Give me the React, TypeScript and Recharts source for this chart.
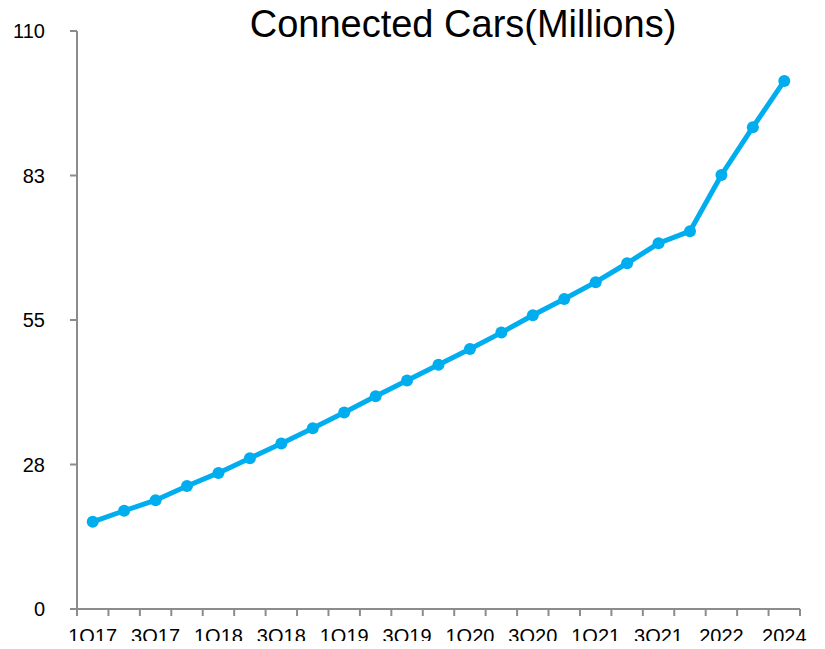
import { LineChart, Line, XAxis, YAxis } from "recharts";

const categories = [
  "1Q17", "2Q17", "3Q17", "4Q17",
  "1Q18", "2Q18", "3Q18", "4Q18",
  "1Q19", "2Q19", "3Q19", "4Q19",
  "1Q20", "2Q20", "3Q20", "4Q20",
  "1Q21", "2Q21", "3Q21", "4Q21",
  "2022", "2023", "2024",
];

const connectedCars = [
  16.6, 18.7, 20.7, 23.4,
  25.9, 28.7, 31.5, 34.4,
  37.4, 40.5, 43.5, 46.5,
  49.5, 52.6, 55.9, 59.0,
  62.2, 65.8, 69.6, 71.9,
  82.6, 91.7, 100.5,
];

const yTicks = [0, 27.5, 55, 82.5, 110];

// each category sits in the middle of its slot, tick marks sit on the slot edges
const data = categories.map((name, i) => ({ name, x: i + 0.5, value: connectedCars[i] }));
const boundaryTicks = categories.map((_, i) => i).concat(categories.length);
const labelTicks = categories.map((_, i) => i + 0.5).filter((_, i) => i % 2 === 0);

const axisColor = "#8c8c8c";
const lineColor = "#00aeef";

export default function App() {
  return (
    <div
      style={{
        position: "relative",
        width: 825,
        height: 649,
        margin: -8,
        fontFamily: "'Liberation Sans', Arial, Helvetica, sans-serif",
      }}
    >
      <LineChart
        width={825}
        height={649}
        data={data}
        margin={{ top: 31, right: 25, left: 0, bottom: 8 }}
      >
        <XAxis
          xAxisId={0}
          dataKey="x"
          type="number"
          domain={[0, categories.length]}
          ticks={boundaryTicks}
          interval={0}
          height={8}
          tickSize={7}
          tickFormatter={() => ""}
          axisLine={{ stroke: axisColor, strokeWidth: 2 }}
          tickLine={{ stroke: axisColor, strokeWidth: 2 }}
        />
        <XAxis
          xAxisId={1}
          dataKey="x"
          type="number"
          domain={[0, categories.length]}
          ticks={labelTicks}
          interval={0}
          height={24}
          tickSize={0}
          tickMargin={12}
          axisLine={false}
          tickLine={false}
          tickFormatter={(v: number) => categories[Math.floor(v)]}
          tick={{ fill: "#000", fontSize: 20 }}
        />
        <YAxis
          width={77}
          domain={[0, 110]}
          ticks={yTicks}
          interval={0}
          tickSize={7}
          tickMargin={25}
          tickFormatter={(v: number) => String(Math.round(v))}
          axisLine={{ stroke: axisColor, strokeWidth: 2 }}
          tickLine={{ stroke: axisColor, strokeWidth: 2 }}
          tick={{ fill: "#000", fontSize: 20 }}
        />
        <Line
          xAxisId={0}
          type="linear"
          dataKey="value"
          stroke={lineColor}
          strokeWidth={5}
          dot={{ r: 6, fill: lineColor, stroke: "none" }}
          isAnimationActive={false}
        />
      </LineChart>
      <div
        style={{
          position: "absolute",
          zIndex: 1,
          left: 0,
          width: 926,
          top: 5,
          textAlign: "center",
          fontSize: 38,
          lineHeight: "38px",
          color: "#000",
          whiteSpace: "nowrap",
        }}
      >
        Connected Cars(Millions)
      </div>
    </div>
  );
}
